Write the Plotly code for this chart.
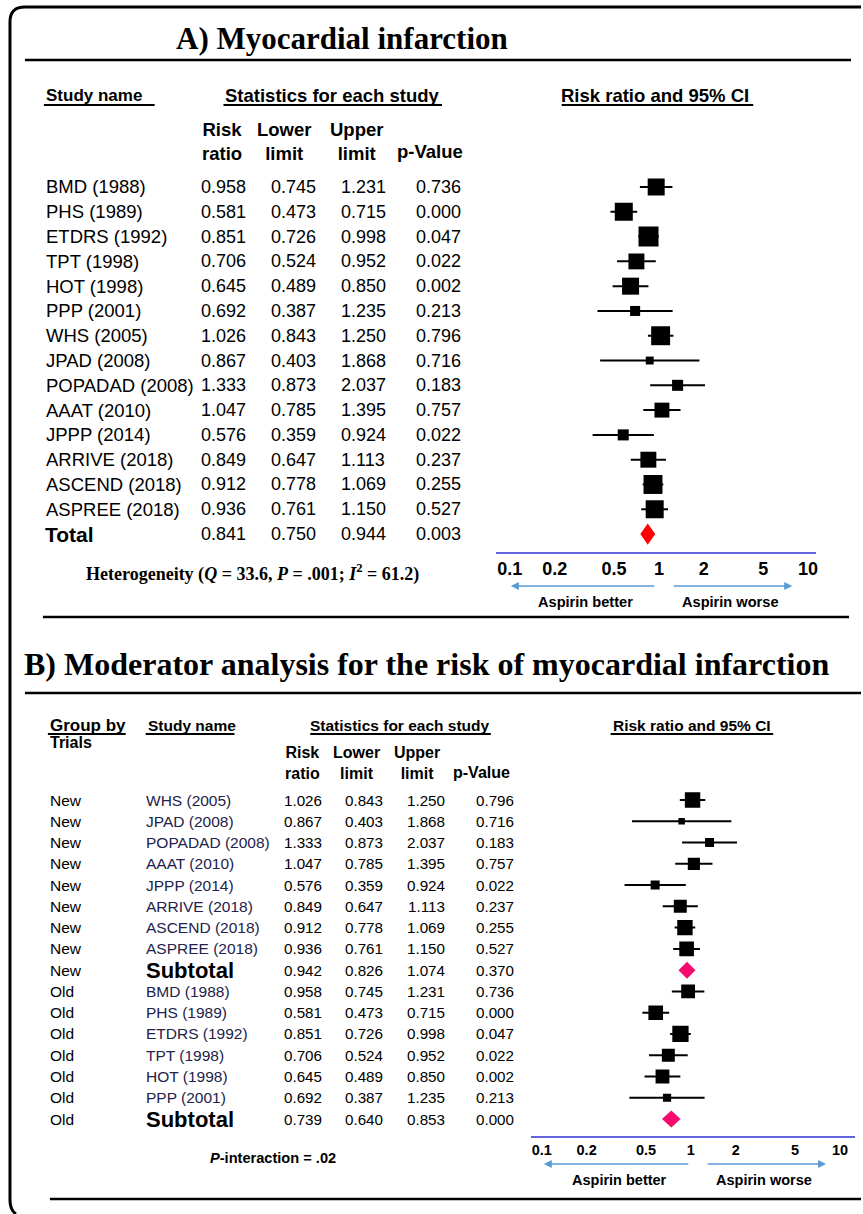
import math
import plotly.graph_objects as go

W, H = 863, 1214

# ---------------- Data: Panel A ----------------
studies_A = ["BMD (1988)", "PHS (1989)", "ETDRS (1992)", "TPT (1998)", "HOT (1998)",
             "PPP (2001)", "WHS (2005)", "JPAD (2008)", "POPADAD (2008)", "AAAT (2010)",
             "JPPP (2014)", "ARRIVE (2018)", "ASCEND (2018)", "ASPREE (2018)"]
rr_A = [0.958, 0.581, 0.851, 0.706, 0.645, 0.692, 1.026, 0.867, 1.333, 1.047, 0.576, 0.849, 0.912, 0.936]
lower_A = [0.745, 0.473, 0.726, 0.524, 0.489, 0.387, 0.843, 0.403, 0.873, 0.785, 0.359, 0.647, 0.778, 0.761]
upper_A = [1.231, 0.715, 0.998, 0.952, 0.850, 1.235, 1.250, 1.868, 2.037, 1.395, 0.924, 1.113, 1.069, 1.150]
pval_A = [0.736, 0.000, 0.047, 0.022, 0.002, 0.213, 0.796, 0.716, 0.183, 0.757, 0.022, 0.237, 0.255, 0.527]
weight_A = [8.3, 9.3, 11.5, 7.3, 8.3, 2.9, 10.3, 1.8, 3.5, 6.4, 3.5, 7.3, 10.3, 9.3]
total_label_A = "Total"
total_A = [0.841, 0.750, 0.944, 0.003]  # rr, lower, upper, p

# ---------------- Data: Panel B ----------------
groups_B = ["New"] * 8 + ["Old"] * 6
studies_B = ["WHS (2005)", "JPAD (2008)", "POPADAD (2008)", "AAAT (2010)", "JPPP (2014)",
             "ARRIVE (2018)", "ASCEND (2018)", "ASPREE (2018)",
             "BMD (1988)", "PHS (1989)", "ETDRS (1992)", "TPT (1998)", "HOT (1998)", "PPP (2001)"]
rr_B = [1.026, 0.867, 1.333, 1.047, 0.576, 0.849, 0.912, 0.936, 0.958, 0.581, 0.851, 0.706, 0.645, 0.692]
lower_B = [0.843, 0.403, 0.873, 0.785, 0.359, 0.647, 0.778, 0.761, 0.745, 0.473, 0.726, 0.524, 0.489, 0.387]
upper_B = [1.250, 1.868, 2.037, 1.395, 0.924, 1.113, 1.069, 1.150, 1.231, 0.715, 0.998, 0.952, 0.850, 1.235]
pval_B = [0.796, 0.716, 0.183, 0.757, 0.022, 0.237, 0.255, 0.527, 0.736, 0.000, 0.047, 0.022, 0.002, 0.213]
weight_B = [10.3, 1.8, 3.5, 6.4, 3.5, 7.3, 10.3, 9.3, 8.3, 9.3, 11.5, 7.3, 8.3, 2.9]
subgroup_names = ["New", "Old"]
subgroup_stats = [[0.942, 0.826, 1.074, 0.370], [0.739, 0.640, 0.853, 0.000]]
p_interaction = ".02"

tick_vals = [0.1, 0.2, 0.5, 1, 2, 5, 10]
tick_text = ["0.1", "0.2", "0.5", "1", "2", "5", "10"]
NULL_RR = 1

# ---------------- helpers ----------------
SANS = "Liberation Sans, Arial, sans-serif"
NARROW = "Liberation Sans Narrow, Arial Narrow, Liberation Sans, sans-serif"
SERIF = "Liberation Serif, Times New Roman, serif"
BLUE = "#6464dc"
ARROW = "#5b9bd5"


def px(x):
    return x / W


def py(y):
    return 1 - y / H


annotations = []
shapes = []


def text(x, y, s, size, family=SANS, anchor="left", yref="paper", color="black"):
    annotations.append(dict(
        x=px(x), y=(py(y) if yref == "paper" else y), xref="paper", yref=yref,
        text=s, showarrow=False, xanchor=anchor, yanchor="middle",
        font=dict(family=family, size=size, color=color)))


def hline(x0, x1, y, width=2.5, color="black"):
    shapes.append(dict(type="line", xref="paper", yref="paper",
                       x0=px(x0), x1=px(x1), y0=py(y), y1=py(y),
                       line=dict(color=color, width=width)))


def arrow(x_head, x_tail, y):
    annotations.append(dict(x=px(x_head), y=py(y), xref="paper", yref="paper",
                            ax=x_tail - x_head, ay=0, axref="pixel", ayref="pixel",
                            text="", showarrow=True, arrowhead=2, arrowsize=1,
                            arrowwidth=1.6, arrowcolor=ARROW))


fig = go.Figure()

# ---------------- Panel A forest ----------------
rows_A = list(range(len(studies_A)))
total_row_A = len(studies_A)
SCALE_A = 5.9
fig.add_trace(go.Scatter(
    x=rr_A, y=rows_A, mode="markers", xaxis="x", yaxis="y",
    marker=dict(symbol="square", color="black", opacity=1,
                size=[SCALE_A * math.sqrt(w) for w in weight_A], line=dict(width=0)),
    error_x=dict(type="data", symmetric=False,
                 array=[u - r for u, r in zip(upper_A, rr_A)],
                 arrayminus=[r - l for r, l in zip(rr_A, lower_A)],
                 color="black", thickness=2, width=0),
    showlegend=False, hoverinfo="skip"))
r, l, u, _ = total_A
hA = 0.43
fig.add_trace(go.Scatter(
    x=[l, r, u, r, l], y=[total_row_A, total_row_A - hA, total_row_A, total_row_A + hA, total_row_A],
    mode="lines", fill="toself", fillcolor="#ff0000", line=dict(width=0, color="#ff0000"),
    xaxis="x", yaxis="y", showlegend=False, hoverinfo="skip"))

# ---------------- Panel B forest ----------------
rows_B = []
sub_rows_B = []
row = 0
for g in subgroup_names:
    for i, gg in enumerate(groups_B):
        if gg == g:
            rows_B.append(row)
            row += 1
    sub_rows_B.append(row)
    row += 1
SCALE_B = 4.8
fig.add_trace(go.Scatter(
    x=rr_B, y=rows_B, mode="markers", xaxis="x2", yaxis="y2",
    marker=dict(symbol="square", color="black", opacity=1,
                size=[SCALE_B * math.sqrt(w) for w in weight_B], line=dict(width=0)),
    error_x=dict(type="data", symmetric=False,
                 array=[u - r for u, r in zip(upper_B, rr_B)],
                 arrayminus=[r - l for r, l in zip(rr_B, lower_B)],
                 color="black", thickness=2, width=0),
    showlegend=False, hoverinfo="skip"))
hB = 0.4
for srow, (r, l, u, _) in zip(sub_rows_B, subgroup_stats):
    fig.add_trace(go.Scatter(
        x=[l, r, u, r, l], y=[srow, srow - hB, srow, srow + hB, srow],
        mode="lines", fill="toself", fillcolor="#f50a6e", line=dict(width=0, color="#f50a6e"),
        xaxis="x2", yaxis="y2", showlegend=False, hoverinfo="skip"))

# ---------------- Null lines ----------------
for xr, yr in [("x", "y domain"), ("x2", "y2 domain")]:
    shapes.append(dict(type="line", xref=xr, yref=yr, x0=math.log10(NULL_RR), x1=math.log10(NULL_RR),
                       y0=0, y1=1, line=dict(color=BLUE, width=1.5), layer="above"))

# ---------------- Panel A text ----------------
text(343, 38, "<b>A) Myocardial infarction</b>", 31, SERIF, "center")
hline(25, 853, 60)

text(44, 96, "<b>Study name</b>", 17, SANS, "left")
hline(44, 155, 105, 1.8)
text(333, 96, "<b>Statistics for each study</b>", 18.5, SANS, "center")
hline(224, 443, 105, 1.8)
text(657, 96, "<b>Risk ratio and 95% CI</b>", 18.5, SANS, "center")
hline(563, 755, 105, 1.8)

colsA = [224, 294, 364, 440]
text(223, 141, "<b>Risk<br>ratio</b>", 18.5, SANS, "center")
text(285, 141, "<b>Lower<br>limit</b>", 18.5, SANS, "center")
text(357, 141, "<b>Upper<br>limit</b>", 18.5, SANS, "center")
text(431, 152, "<b>p-Value</b>", 18.5, SANS, "center")

for i, s in enumerate(studies_A):
    text(44, rows_A[i], s, 18.5, SANS, "left", yref="y")
    for cx, v in zip(colsA, [rr_A[i], lower_A[i], upper_A[i], pval_A[i]]):
        text(cx, rows_A[i], f"{v:.3f}", 18, SANS, "center", yref="y")
text(43, total_row_A, f"<b>{total_label_A}</b>", 21, SANS, "left", yref="y")
for cx, v in zip(colsA, total_A):
    text(cx, total_row_A, f"{v:.3f}", 18, SANS, "center", yref="y")

text(253, 573, "<b>Heterogeneity (<i>Q</i> = 33.6, <i>P</i> = .001; <i>I</i><sup>2</sup> = 61.2)</b>",
     18, SERIF, "center")

arrow(512, 657, 586)
arrow(794, 674, 586)
text(587, 602, "<b>Aspirin better</b>", 14.6, SANS, "center")
text(732, 602, "<b>Aspirin worse</b>", 14.6, SANS, "center")
hline(43, 851, 617)

# ---------------- Panel B text ----------------
text(22, 664, "<b>B) Moderator analysis for the risk of myocardial infarction</b>", 32, SERIF, "left")
hline(25, 863, 693)

text(48, 725, "<b>Group by</b>", 17, NARROW, "left")
hline(48, 126, 734, 1.8)
text(48, 742, "<b>Trials</b>", 16, NARROW, "left")
text(146, 725, "<b>Study name</b>", 15.5, NARROW, "left")
hline(146, 235, 734, 1.8)
text(401, 725, "<b>Statistics for each study</b>", 15.5, NARROW, "center")
hline(311, 492, 734, 1.8)
text(694, 725, "<b>Risk ratio and 95% CI</b>", 15.5, NARROW, "center")
hline(612, 775, 734, 1.8)

colsB = [304, 365, 427, 496]
text(303, 763, "<b>Risk<br>ratio</b>", 16, NARROW, "center")
text(357, 763, "<b>Lower<br>limit</b>", 16, NARROW, "center")
text(418, 763, "<b>Upper<br>limit</b>", 16, NARROW, "center")
text(483, 772, "<b>p-Value</b>", 16, NARROW, "center")

for i, s in enumerate(studies_B):
    text(48, rows_B[i], groups_B[i], 15.5, SANS, "left", yref="y2")
    text(144, rows_B[i], s, 15.5, SANS, "left", yref="y2", color="#22224a")
    for cx, v in zip(colsB, [rr_B[i], lower_B[i], upper_B[i], pval_B[i]]):
        text(cx, rows_B[i], f"{v:.3f}", 15.2, SANS, "center", yref="y2")
for g, srow, vals in zip(subgroup_names, sub_rows_B, subgroup_stats):
    text(48, srow, g, 15.5, SANS, "left", yref="y2")
    text(144, srow, "<b>Subtotal</b>", 22, SANS, "left", yref="y2")
    for cx, v in zip(colsB, vals):
        text(cx, srow, f"{v:.3f}", 15.2, SANS, "center", yref="y2")

text(274, 1158, f"<b><i>P</i>-interaction = {p_interaction}</b>", 14.6, SANS, "center")

arrow(545, 691, 1164)
arrow(828, 708, 1164)
text(621, 1180, "<b>Aspirin better</b>", 14.5, SANS, "center")
text(766, 1180, "<b>Aspirin worse</b>", 14.5, SANS, "center")
hline(50, 863, 1199)

# ---------------- Border ----------------
border = (f"M {px(863)} {py(7)} L {px(25)} {py(7)} Q {px(10)} {py(7)} {px(10)} {py(22)} "
          f"L {px(10)} {py(1200)} Q {px(10)} {py(1210)} {px(16)} {py(1214)}")
shapes.append(dict(type="path", xref="paper", yref="paper", path=border,
                   line=dict(color="black", width=3)))

# ---------------- Axes ----------------
dec = 149.5
axis_common = dict(type="log", tickvals=tick_vals, ticktext=[f"<b>{t}</b>" for t in tick_text],
                   showgrid=False, zeroline=False, showline=True, linecolor=BLUE, linewidth=1.5,
                   ticks="", fixedrange=True)
fig.update_layout(
    width=W, height=H, autosize=False,
    margin=dict(l=0, r=0, t=0, b=0),
    paper_bgcolor="white", plot_bgcolor="rgba(0,0,0,0)",
    showlegend=False,
    xaxis=dict(domain=[px(497), px(818)],
               range=[-1 - (511 - 497) / dec, 1 + (818 - 810) / dec],
               anchor="y", tickfont=dict(family=SANS, size=18, color="black"), **axis_common),
    yaxis=dict(domain=[py(552), py(105)],
               range=[(552 - 187) / 24.79, (105 - 187) / 24.79],
               visible=False, fixedrange=True),
    xaxis2=dict(domain=[px(532), px(857)],
                range=[-1 - (543 - 532) / dec, 1 + (857 - 842) / dec],
                anchor="y2", tickfont=dict(family=SANS, size=14.5, color="black"), **axis_common),
    yaxis2=dict(domain=[py(1136), py(733)],
                range=[(1136 - 800) / 21.27, (733 - 800) / 21.27],
                visible=False, fixedrange=True),
    annotations=annotations,
    shapes=shapes,
)

fig.write_html("out.html", config={"displayModeBar": False},
               post_script="document.body.style.margin='0px';")
